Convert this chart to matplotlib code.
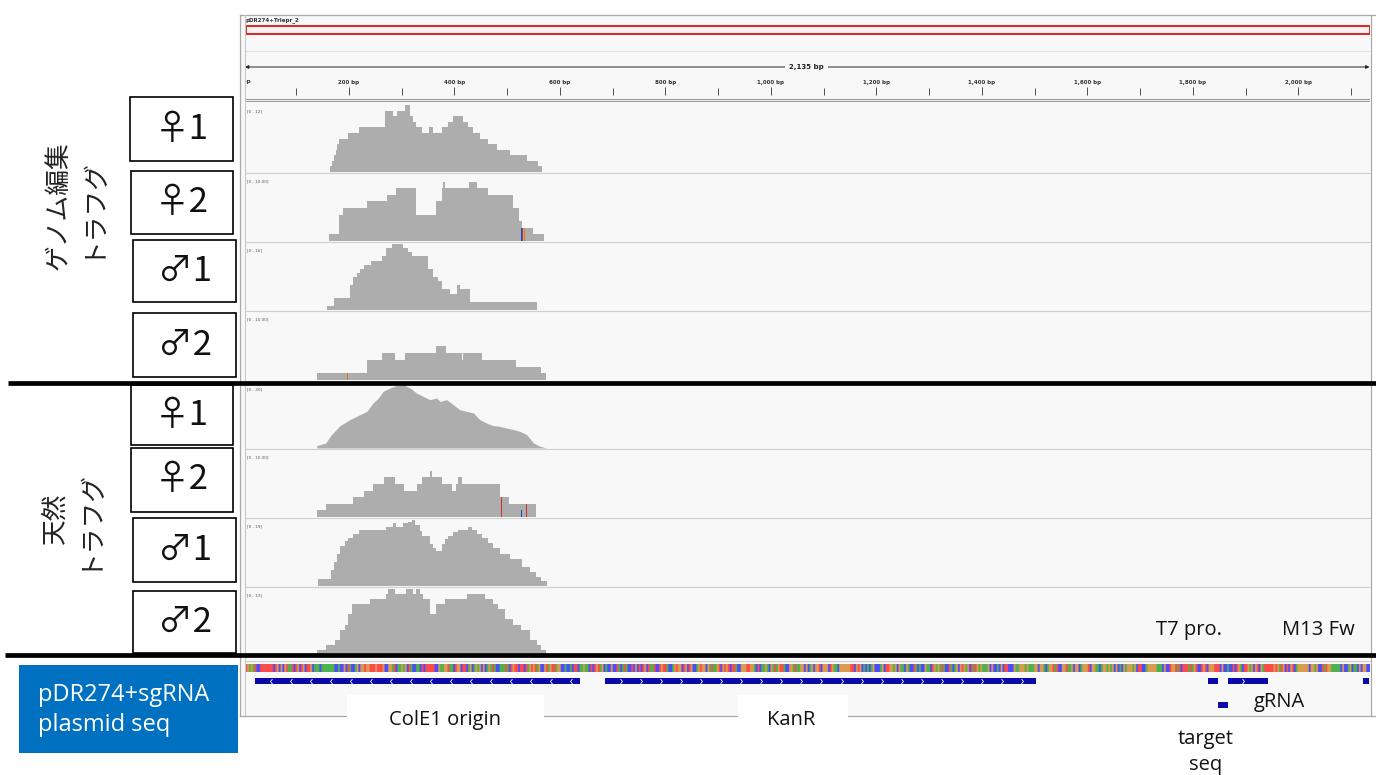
import numpy as np
import matplotlib.pyplot as plt
from matplotlib.patches import Rectangle
from matplotlib.path import Path
from matplotlib.ticker import MultipleLocator, FuncFormatter

# ---------------------------------------------------------------
# data: read coverage steps (start bp, depth); last entry closes the run
# ---------------------------------------------------------------
plasmid_len = 2135

ge_f1_bp = [165, 168, 172, 175, 178, 182, 199, 220, 268, 283, 292, 307, 316, 322, 328, 338,
            352, 360, 376, 388, 398, 407, 417, 426, 436, 448, 464, 480, 505, 537, 559, 567]
ge_f1_cov = [1, 2, 3, 4, 5, 6, 7, 8, 11, 10, 11, 12, 10, 9, 8, 7,
             8, 7, 8, 9, 10, 10, 9, 8, 7, 6, 5, 4, 3, 2, 1, 0]

ge_f2_bp = [163, 182, 188, 235, 273, 290, 328, 366, 376, 379, 383, 427, 442, 464, 512, 523, 529, 549, 570]
ge_f2_cov = [1, 4, 5, 6, 7, 8, 4, 6, 8, 9, 8, 9, 8, 7, 5, 3, 2, 1, 0]

ge_m1_bp = [158, 172, 202, 208, 215, 221, 228, 241, 262, 271, 281, 303, 312, 319, 350, 360,
            369, 376, 391, 405, 410, 429, 557]
ge_m1_cov = [1, 3, 6, 8, 9, 10, 11, 12, 13, 15, 16, 15, 14, 13, 10, 8,
             7, 5, 4, 6, 5, 2, 0]

ge_m2_bp = [139, 235, 263, 287, 307, 366, 384, 414, 417, 453, 517, 565, 573]
ge_m2_cov = [1, 3, 4, 3, 4, 5, 4, 3, 4, 3, 2, 1, 0]

wt_f1_bp = [139, 156, 167, 183, 202, 221, 234, 246, 256, 265, 278, 290, 303, 316, 328, 341, 354, 366,
            373, 385, 398, 410, 423, 436, 448, 461, 474, 486, 499, 512, 524, 537, 550, 562, 575]
wt_f1_cov = [1.1, 2.3, 6.2, 10.3, 13.1, 15.4, 16.9, 20.8, 23.1, 26.2, 27.7, 28.8, 29.2, 27.7, 25.4,
             23.8, 22.3, 23.1, 21.5, 22.3, 20.0, 17.7, 16.9, 16.2, 13.1, 11.5, 10.3, 10.0, 9.2, 8.5,
             7.7, 6.2, 2.3, 0.8, 0]

wt_f2_bp = [139, 156, 207, 228, 246, 267, 287, 304, 330, 338, 354, 357, 376, 396, 403, 406, 414, 486, 504, 555]
wt_f2_cov = [1, 2, 3, 4, 5, 6, 5, 4, 5, 6, 7, 6, 5, 4, 5, 6, 5, 3, 2, 0]

wt_m1_bp = [142, 167, 172, 177, 183, 192, 199, 208, 220, 271, 284, 290, 303, 312, 319, 325, 335, 338,
            354, 359, 366, 376, 382, 388, 398, 407, 426, 433, 442, 452, 464, 474, 486, 505, 529, 543,
            555, 565, 575]
wt_m1_cov = [2, 4.5, 6.8, 9.2, 11.5, 12.9, 13.8, 15, 16.2, 17.1, 18, 17.1, 18, 18.5, 19, 17.6, 15.7, 14.3,
             12, 11, 10.1, 12, 13.4, 14.3, 15.5, 16.2, 17.1, 16.2, 15, 13.8, 12.4, 10.8, 9.2, 7.8, 5.4, 4,
             2.6, 1.5, 0]

wt_m2_bp = [139, 156, 174, 183, 192, 199, 205, 240, 271, 275, 287, 309, 322, 328, 335, 341, 354, 366,
            382, 423, 458, 474, 483, 496, 512, 527, 543, 556, 565, 574]
wt_m2_cov = [1, 2, 3, 5, 6, 8, 10, 11, 12, 13, 12, 13, 12, 13, 12, 11, 8, 10,
             11, 12, 11, 10, 9, 7, 6, 5, 3, 2, 1, 0]

track_bp = [ge_f1_bp, ge_f2_bp, ge_m1_bp, ge_m2_bp, wt_f1_bp, wt_f2_bp, wt_m1_bp, wt_m2_bp]
track_cov = [ge_f1_cov, ge_f2_cov, ge_m1_cov, ge_m2_cov, wt_f1_cov, wt_f2_cov, wt_m1_cov, wt_m2_cov]
track_max = [12, 10, 16, 10, 30, 10, 19, 13]
track_range = ["[0 - 12]", "[0 - 10.00]", "[0 - 16]", "[0 - 10.00]",
               "[0 - 30]", "[0 - 10.00]", "[0 - 19]", "[0 - 13]"]
track_smooth = [False, False, False, False, True, False, False, False]
sample_labels = ["♀1", "♀2", "♂1", "♂2", "♀1", "♀2", "♂1", "♂2"]

# mismatch bars: (track, bp, depth, colour)
mismatches = [(1, 526, 2, "#2040d0"), (1, 529, 2, "#d03030"), (1, 532, 2, "#d08020"),
              (3, 197, 1, "#d08020"),
              (5, 489, 3, "#d03030"), (5, 526, 1, "#2040d0"), (5, 535, 2, "#d03030")]

# annotation features: name, start, end, row, strand
feat_name = ["ColE1 origin", "KanR", "T7 pro.", "M13 Fw", "end", "gRNA"]
feat_start = [22, 686, 1829, 1866, 2122, 1847]
feat_end = [639, 1502, 1847, 1942, 2135, 1866]
feat_row = [0, 0, 0, 0, 0, 1]
feat_strand = ["-", "+", "", "+", "", ""]

seq_excerpt = (
    "TTGAGATCCTTTTTTTCTGCGCGTAATCTGCTGCTTGCAAACAAAAAAACCACCGCTACCAGCGGTGGTTTGTTTGCCGGATCAAGAGC"
    "TACCAACTCTTTTTCCGAAGGTAACTGGCTTCAGCAGAGCGCAGATACCAAATACTGTTCTTCTAGTGTAGCCGTAGTTAGGCCACCAC"
    "TTCAAGAACTCTGTAGCACCGCCTACATACCTCGCTCTGCTAATCCTGTTACCAGTGGCTGCTGCCAGTGGCGATAAGTCGTGTCTTAC"
    "CGGGTTGGACTCAAGACGATAGTTACCGGATAAGGCGCAGCGGTCGGGCTGAACGGGGGGTTCGTGCACACAGCCCAGCTTGGAGCGAAC"
    "GACCTACACCGAACTGAGATACCTACAGCGTGAGCTATGAGAAAGCGCCACGCTTCCCGAAGGGAGAAAGGCGGACAGGTATCCGGTAAG"
    "CGGCAGGGTCGGAACAGGAGAGCGCACGAGGGAGCTTCCAGGGGGAAACGCCTGGTATCTTTATAGTCCTGTCGGGTTTCGCCACCTCTG"
    "ACTTGAGCGTCGATTTTTGTGATGCTCGTCAGGGGGGCGGAGCCTATGGAAAAACGCCAGCAACGCGGCC"
)
base_rgb = {"A": (0, 150, 0), "C": (0, 0, 255), "G": (209, 113, 5), "T": (255, 0, 0)}

# ---------------------------------------------------------------
# layout helpers (pixel coordinates of the 1376x775 canvas)
# ---------------------------------------------------------------
W, H = 1376, 775
fig = plt.figure(figsize=(W / 100, H / 100), dpi=100)
fig.patch.set_facecolor("white")


def px_axes(x0, y0, x1, y1):
    return fig.add_axes([x0 / W, 1 - y1 / H, (x1 - x0) / W, (y1 - y0) / H])


BP_LO, BP_HI = 3, 2136
PX0, PX1 = 245, 1370
JP = ["Noto Sans CJK JP", "DejaVu Sans"]
LAT = ["Open Sans", "DejaVu Sans"]

# panel background
panel = px_axes(240, 15, 1370, 716)
panel.set_facecolor("#f8f8f8")
panel.set_xticks([])
panel.set_yticks([])
for s in panel.spines.values():
    s.set_visible(False)

# ---------------------------------------------------------------
# header: name, ideogram, ruler
# ---------------------------------------------------------------
head = px_axes(PX0, 15, PX1, 102)
head.set_xlim(BP_LO, BP_HI)
head.set_ylim(102, 15)
head.axis("off")
head.text(4, 20, "pDR274+Trlepr_2", fontsize=4, fontweight="bold", color="#333333",
          va="center", ha="left")
head.add_patch(Rectangle((BP_LO + 1, 25.5), plasmid_len - BP_LO, 8, facecolor="#fdf1f1",
                         edgecolor="#c83232", lw=1.5))
head.axhline(51, color="#e0e0e0", lw=0.8)
head.annotate("", xy=(BP_LO, 67), xytext=(plasmid_len, 67),
              arrowprops=dict(arrowstyle="<|-|>", color="#222222", lw=0.7,
                              mutation_scale=5, shrinkA=0, shrinkB=0))
head.text(plasmid_len / 2, 67, "{:,} bp".format(plasmid_len), fontsize=5, fontweight="bold",
          color="#222222", ha="center", va="center",
          bbox=dict(facecolor="#f8f8f8", edgecolor="none", pad=3))
head.text(0, 81, "0 bp", fontsize=4, fontweight="bold", color="#333333",
          ha="center", va="center", clip_on=True)
head.axhline(98.5, color="#9a9a9a", lw=0.8)
head.axhline(101, color="#9a9a9a", lw=0.8)

ruler = px_axes(PX0, 86, PX1, 95)
ruler.set_xlim(BP_LO, BP_HI)
ruler.set_facecolor("none")
ruler.set_yticks([])
for s in ruler.spines.values():
    s.set_visible(False)
ruler.xaxis.set_major_locator(MultipleLocator(200))
ruler.xaxis.set_minor_locator(MultipleLocator(100))
ruler.xaxis.set_major_formatter(FuncFormatter(lambda v, p: "{:,} bp".format(int(v))))
ruler.tick_params(axis="x", which="both", direction="in", bottom=True, top=False,
                  labelbottom=False, labeltop=True, color="#333333", width=0.6)
ruler.tick_params(axis="x", which="major", length=6, pad=0.5, labelsize=4, labelcolor="#333333")
ruler.tick_params(axis="x", which="minor", length=5)
for lab in ruler.get_xticklabels():
    lab.set_fontweight("bold")

# ---------------------------------------------------------------
# coverage tracks
# ---------------------------------------------------------------
track_edges = [103, 173, 242, 311, 381, 449, 518, 587, 656]
for i in range(8):
    top, bot = track_edges[i], track_edges[i + 1]
    ax = px_axes(PX0, top + 2, PX1, bot - 1)
    ax.set_facecolor("none")
    ax.axis("off")
    ax.set_xlim(BP_LO, BP_HI)
    ax.set_ylim(0, track_max[i])
    if track_smooth[i]:
        ax.fill_between(track_bp[i], track_cov[i], color="#adadad", lw=0)
    else:
        ax.fill_between(track_bp[i], track_cov[i], step="post", color="#adadad", lw=0)
    for t, pos, d, c in mismatches:
        if t == i:
            ax.bar(pos, d, width=2, color=c, align="edge", lw=0)
    ax.text(0.002, 0.93, track_range[i], transform=ax.transAxes, fontsize=3,
            color="#555555", va="top", ha="left")

# ---------------------------------------------------------------
# sequence band and features
# ---------------------------------------------------------------
seq_ax = px_axes(PX0, 664, PX1, 672)
seq_ax.axis("off")
seq_rgb = np.array([[base_rgb[b] for b in seq_excerpt]], dtype=float) / 255
seq_ax.imshow(seq_rgb, aspect="auto", extent=(0, plasmid_len, 0, 1), alpha=0.7,
              interpolation="antialiased")
seq_ax.set_xlim(BP_LO, BP_HI)
seq_ax.set_ylim(0, 1)

feat_ax = px_axes(PX0, 669, PX1, 717)
feat_ax.set_facecolor("none")
feat_ax.axis("off")
feat_ax.set_xlim(BP_LO, BP_HI)
feat_ax.set_ylim(1.5, -0.5)
chev_l = Path([(0.4, 1), (-0.4, 0), (0.4, -1)], [Path.MOVETO, Path.LINETO, Path.LINETO])
chev_r = Path([(-0.4, 1), (0.4, 0), (-0.4, -1)], [Path.MOVETO, Path.LINETO, Path.LINETO])
for s, e, r, st in zip(feat_start, feat_end, feat_row, feat_strand):
    feat_ax.add_patch(Rectangle((s, r - 0.13), e - s, 0.26, facecolor="#0a0aa8",
                                edgecolor="none"))
    if st:
        xs = np.arange(s + 30, e - 10, 38)
        feat_ax.plot(xs, [r] * len(xs), ls="none", marker=chev_l if st == "-" else chev_r,
                     markersize=3.5, markerfacecolor="none", markeredgecolor="white",
                     markeredgewidth=0.6)

# ---------------------------------------------------------------
# overlay: frame, separators, sample boxes, labels
# ---------------------------------------------------------------
ov = px_axes(0, 0, W, H)
ov.set_facecolor("none")
ov.set_xlim(0, W)
ov.set_ylim(H, 0)
ov.axis("off")

frame = "#a8a8a8"
ov.plot([240, W], [15, 15], color=frame, lw=0.9)
ov.plot([239.5, 239.5], [15, 716], color=frame, lw=0.9)
ov.plot([244.5, 244.5], [15, 716], color="#c8c8c8", lw=0.8)
ov.plot([1370.5, 1370.5], [15, 716], color=frame, lw=0.9)
ov.plot([240, W], [716, 716], color=frame, lw=0.9)
for y in [173, 242, 311, 449, 518, 587]:
    ov.plot([245, 1370], [y, y], color="#cfcfcf", lw=0.8)
ov.plot([245, 1370], [661, 661], color="#cfcfcf", lw=0.8)

# thick group separators
ov.plot([8, W], [383, 383], color="black", lw=3.4, solid_capstyle="butt", zorder=4)
ov.plot([5, W], [655, 655], color="black", lw=3.4, solid_capstyle="butt", zorder=4)

box_rects = [(130, 97, 233, 161), (131, 171, 233, 234), (133, 240, 236, 302), (133, 313, 236, 377),
             (131, 385, 233, 445), (131, 448, 233, 512), (133, 518, 236, 582), (133, 591, 236, 653)]
for (x0, y0, x1, y1), lab in zip(box_rects, sample_labels):
    ov.add_patch(Rectangle((x0, y0), x1 - x0, y1 - y0, facecolor="white", edgecolor="black",
                           lw=1.2, zorder=3))
    ov.text((x0 + x1) / 2, (y0 + y1) / 2, lab, fontsize=25, family=JP, ha="center",
            va="center", color="#111111", zorder=5)

ov.text(75, 206, "ゲノム編集\nトラフグ", rotation=90, fontsize=18.5, family=JP, ha="center",
        va="center", multialignment="center", linespacing=1.3, color="#222222")
ov.text(72, 518, "天然\nトラフグ", rotation=90, fontsize=18.5, family=JP, ha="center",
        va="center", multialignment="center", linespacing=1.3, color="#222222")

ov.add_patch(Rectangle((19, 665), 219, 88, facecolor="#0070c0", edgecolor="none", zorder=3))
ov.text(38, 710, "pDR274+sgRNA\nplasmid seq", fontsize=17, family=LAT, color="white",
        ha="left", va="center", linespacing=1.3, zorder=5)

ov.add_patch(Rectangle((347, 695), 197, 55, facecolor="white", edgecolor="none", zorder=3))
ov.add_patch(Rectangle((738, 695), 110, 55, facecolor="white", edgecolor="none", zorder=3))
lab_kw = dict(fontsize=14.5, family=LAT, ha="center", va="center", color="#111111", zorder=5)
ov.text(445, 720, feat_name[0], **lab_kw)
ov.text(791, 720, feat_name[1], **lab_kw)
ov.text(1189, 630, feat_name[2], **lab_kw)
ov.text(1318, 630, feat_name[3], **lab_kw)
ov.text(1279, 702, feat_name[5], **lab_kw)
ov.text(1206, 752, "target\nseq", linespacing=1.45, **lab_kw)

fig.savefig("out.png", dpi=100)
